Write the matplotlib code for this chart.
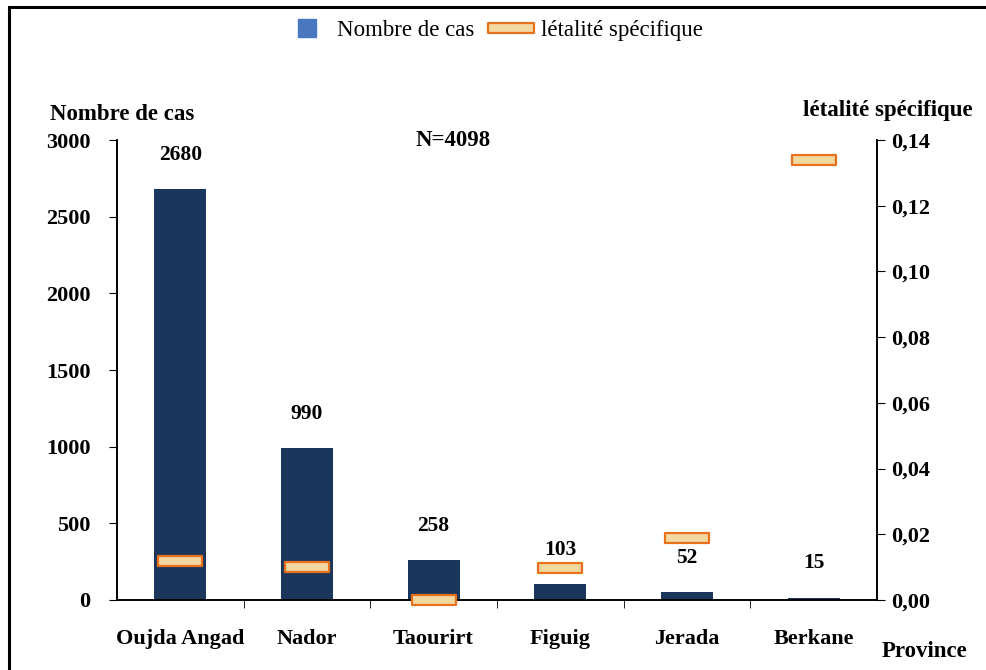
import matplotlib.pyplot as plt
from matplotlib.patches import Rectangle
from matplotlib.path import Path
from matplotlib.lines import Line2D

provinces = ['Oujda Angad', 'Nador', 'Taourirt', 'Figuig', 'Jerada', 'Berkane']
cas = [2680, 990, 258, 103, 52, 15]
letalite = [0.0119, 0.0101, 0.0, 0.0097, 0.019, 0.134]
y_ticks = [0, 500, 1000, 1500, 2000, 2500, 3000]
y2_ticks = [0.0, 0.02, 0.04, 0.06, 0.08, 0.10, 0.12, 0.14]

plt.rcParams['font.family'] = ['Liberation Serif', 'DejaVu Serif']

fig = plt.figure(figsize=(9.87, 6.7), dpi=100)
ax = fig.add_axes([0.1185, 0.1045, 0.770, 0.6865])
ax2 = ax.twinx()

bar_color = '#1b365d'
x = list(range(len(provinces)))
ax.bar(x, cas, width=0.41, color=bar_color, zorder=2)
for xi, v in zip(x, cas):
    ax.text(xi, v + 225, str(v), ha='center', va='center',
            fontsize=15.5, fontweight='bold')

# flat rectangle marker for the lethality series
rect = Path([(-2.2, -0.5), (2.2, -0.5), (2.2, 0.5), (-2.2, 0.5), (-2.2, -0.5)],
            [Path.MOVETO, Path.LINETO, Path.LINETO, Path.LINETO, Path.CLOSEPOLY])
ax2.plot(x, letalite, linestyle='none', marker=rect, markersize=32,
         markerfacecolor='#f3d7a0', markeredgecolor='#e8711c',
         markeredgewidth=1.6, zorder=3, clip_on=False)

ax.set_xlim(-0.5, 5.5)
ax.set_ylim(0, 3000)
ax2.set_ylim(0, 0.14)
ax.set_yticks(y_ticks)
ax2.set_yticks(y2_ticks)
ax2.set_yticklabels([('%.2f' % t).replace('.', ',') for t in y2_ticks])
ax.set_xticks(x)
ax.set_xticklabels(provinces)
ax.set_xticks([i + 0.5 for i in range(5)], minor=True)
ax.tick_params(axis='x', which='major', length=0, pad=21)
ax.tick_params(axis='x', which='minor', length=6, direction='out')
ax.tick_params(axis='y', length=6, direction='out', pad=13)
ax2.tick_params(axis='y', length=6, direction='out', pad=4)
for lab in ax.get_xticklabels() + ax.get_yticklabels() + ax2.get_yticklabels():
    lab.set_fontsize(16)
    lab.set_fontweight('bold')

for a in (ax, ax2):
    a.spines['top'].set_visible(False)
    a.spines['left'].set_linewidth(1.2)
    a.spines['right'].set_linewidth(1.2)
    a.spines['bottom'].set_linewidth(1.2)

fig.text(0.124, 0.821, 'Nombre de cas', ha='center', fontsize=16.5, fontweight='bold')
fig.text(0.900, 0.827, 'létalité spécifique', ha='center', fontsize=16.5, fontweight='bold')
fig.text(0.459, 0.782, 'N=4098', ha='center', fontsize=16.5, fontweight='bold')
fig.text(0.937, 0.020, 'Province', ha='center', fontsize=16.5, fontweight='bold')

handles = [
    Line2D([], [], linestyle='none', marker='s', markersize=13,
           markerfacecolor='#4a78c0', markeredgecolor='#4a78c0'),
    Line2D([], [], linestyle='none', marker=rect, markersize=33,
           markerfacecolor='#f3d7a0', markeredgecolor='#e8711c', markeredgewidth=1.6),
]
fig.legend(handles, ['Nombre de cas', 'létalité spécifique'], loc='center',
           bbox_to_anchor=(0.5, 0.955), ncol=2, frameon=False, fontsize=16.5,
           handletextpad=0.3, columnspacing=0.6, handlelength=2.0)

fig.patches.append(Rectangle((0.009, -0.05), 1.1, 1.05 - 0.0105, transform=fig.transFigure,
                             fill=False, edgecolor='black', linewidth=2.2))

fig.savefig('out.png', dpi=100)
